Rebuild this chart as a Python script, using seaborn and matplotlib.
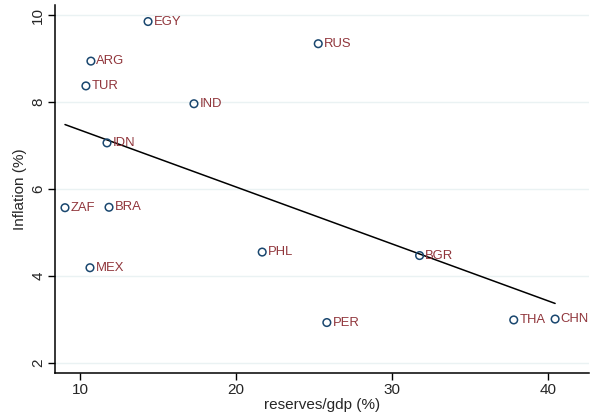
import matplotlib
matplotlib.use("Agg")
import matplotlib.pyplot as plt
import numpy as np
import pandas as pd
import seaborn as sns

# Country codes, reserves as share of GDP (%) and inflation (%)
countries = ["EGY", "ARG", "TUR", "IND", "IDN", "ZAF", "BRA", "MEX",
             "PHL", "RUS", "BGR", "PER", "THA", "CHN"]
reserves_gdp = [14.36, 10.70, 10.38, 17.30, 11.73, 9.04, 11.86, 10.64,
                21.67, 25.26, 31.75, 25.81, 37.78, 40.43]
inflation = [9.85, 8.94, 8.37, 7.96, 7.06, 5.57, 5.58, 4.19,
             4.55, 9.34, 4.47, 2.93, 2.99, 3.01]

x_ticks = [10, 20, 30, 40]
y_ticks = [2, 4, 6, 8, 10]

df = pd.DataFrame({"country": countries, "reserves": reserves_gdp, "inflation": inflation})

sns.set_theme(style="white")
plt.rcParams["font.family"] = ["Liberation Sans", "DejaVu Sans"]

marker_color = "#1a476f"
label_color = "#90353b"
grid_color = "#eaf2f3"

fig = plt.figure(figsize=(5.96, 4.15), dpi=100)
ax = fig.add_axes([55 / 596, 1 - 373 / 415, (589 - 55) / 596, (373 - 5) / 415])

for yv in y_ticks:
    ax.axhline(yv, color=grid_color, lw=1.0, zorder=0)

sns.regplot(data=df, x="reserves", y="inflation", ax=ax, scatter=False, ci=None,
            truncate=True, line_kws={"color": "black", "lw": 1.1, "zorder": 2})

sns.scatterplot(data=df, x="reserves", y="inflation", ax=ax, marker="o", s=30,
                facecolor="none", edgecolor=marker_color, linewidth=1.1, zorder=3)

for c, xv, yv in zip(countries, reserves_gdp, inflation):
    ax.annotate(c, (xv, yv), xytext=(4, 0), textcoords="offset points",
                ha="left", va="center", color=label_color, fontsize=9.4, zorder=4)

ax.set_xlim(8.4, 42.6)
ax.set_ylim(1.77, 10.23)
ax.set_xticks(x_ticks)
ax.set_yticks(y_ticks)
ax.set_xticklabels([str(t) for t in x_ticks], fontsize=11)
ax.set_yticklabels([str(t) for t in y_ticks], fontsize=11, rotation=90, va="center")
ax.tick_params(axis="both", direction="out", length=5, width=1, color="black",
               bottom=True, left=True, pad=2)

ax.set_xlabel("reserves/gdp (%)", fontsize=11, labelpad=1)
ax.set_ylabel("Inflation (%)", fontsize=11, labelpad=3)

for side in ["top", "right"]:
    ax.spines[side].set_visible(False)
for side in ["left", "bottom"]:
    ax.spines[side].set_color("black")
    ax.spines[side].set_linewidth(1.1)

fig.savefig("out.png", dpi=100, facecolor="white")
